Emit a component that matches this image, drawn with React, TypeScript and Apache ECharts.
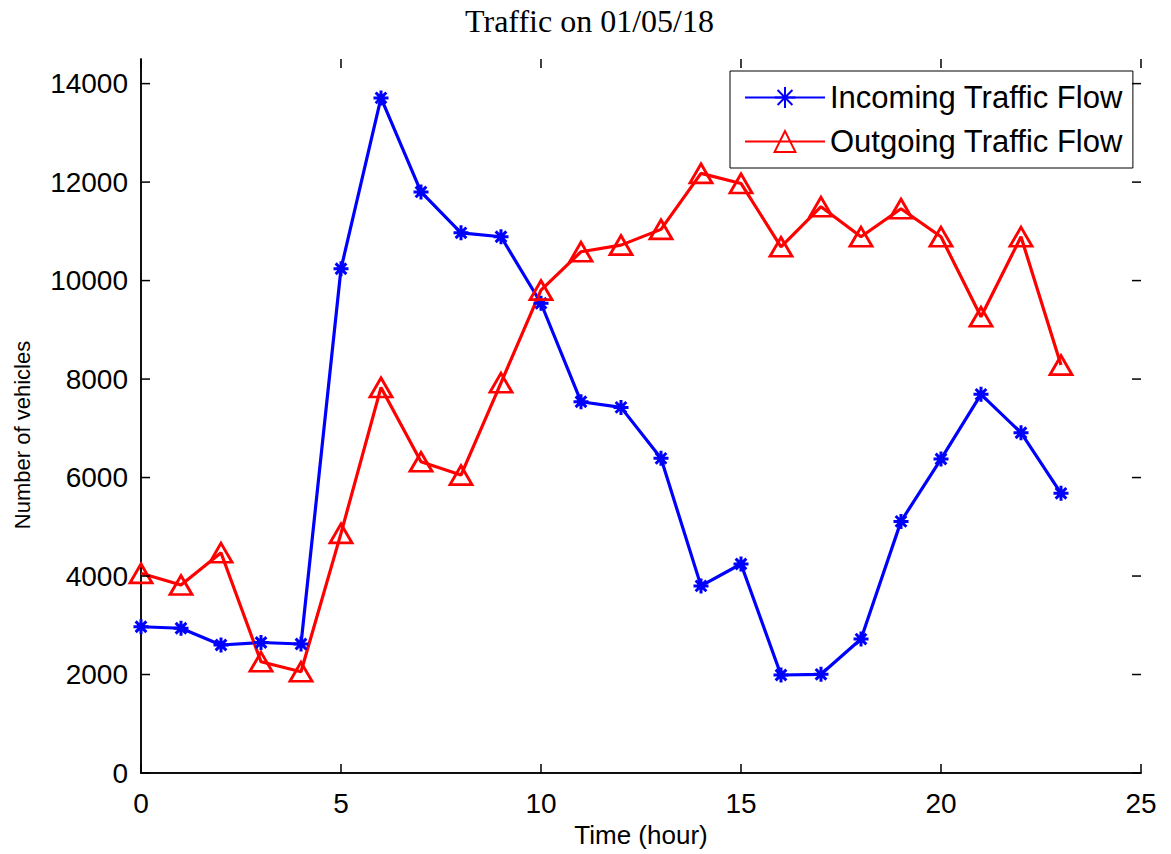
import React, { useEffect, useRef } from "react";
import * as echarts from "echarts";

const hours = [0, 1, 2, 3, 4, 5, 6, 7, 8, 9, 10, 11, 12, 13, 14, 15, 16, 17, 18, 19, 20, 21, 22, 23];
const incoming = [2970, 2940, 2600, 2650, 2620, 10240, 13710, 11800, 10970, 10890, 9540, 7540, 7425, 6390, 3800, 4244, 1990, 2004, 2720, 5110, 6376, 7690, 6910, 5680];
const outgoing = [4055, 3817, 4473, 2260, 2057, 4867, 7830, 6320, 6050, 7925, 9807, 10585, 10720, 11040, 12177, 11973, 10686, 11500, 10890, 11460, 10890, 9265, 10890, 8284];
const xTicks = [0, 5, 10, 15, 20, 25];
const yTicks = [0, 2000, 4000, 6000, 8000, 10000, 12000, 14000];
const seriesNames = ["Incoming Traffic Flow", "Outgoing Traffic Flow"];
const titleText = "Traffic on 01/05/18";
const xName = "Time (hour)";
const yName = "Number of vehicles";
const X_MIN = 0;
const X_MAX = 25;
const Y_MIN = 0;
const Y_MAX = 14500;

const ASTERISK = "path://M0,7L14,7M7,0L7,14M2,2L12,12M12,2L2,12";
const SANS = "Liberation Sans, Arial, Helvetica, sans-serif";
const TICK_LEN = 9;

export default function App() {
  const ref = useRef<HTMLDivElement>(null);
  useEffect(() => {
    if (!ref.current) return;
    const chart = echarts.init(ref.current, undefined, { renderer: "svg" });
    const axisLine = () => ({ show: true, lineStyle: { color: "#000", width: 1.5 } });
    chart.setOption({
      animation: false,
      backgroundColor: "#fff",
      title: {
        text: titleText,
        left: 589.5,
        textAlign: "center",
        top: 5,
        padding: 0,
        textStyle: { fontFamily: "Liberation Serif, Times New Roman, serif", fontSize: 32, fontWeight: "normal", color: "#000" },
      },
      legend: {
        orient: "vertical",
        left: 730,
        top: 71,
        itemWidth: 80,
        itemHeight: 26,
        itemGap: 13,
        padding: [11, 10, 11, 14],
        borderColor: "#000",
        borderWidth: 1,
        backgroundColor: "#fff",
        textStyle: { fontFamily: SANS, fontSize: 31, color: "#000" },
        data: seriesNames,
      },
      grid: { left: 141, right: 30, top: 59, bottom: 81, containLabel: false },
      xAxis: [
        {
          type: "value",
          min: X_MIN,
          max: X_MAX,
          interval: 5,
          position: "bottom",
          name: xName,
          nameLocation: "middle",
          nameGap: 44,
          nameTextStyle: { fontFamily: SANS, fontSize: 26, color: "#000" },
          axisLine: axisLine(),
          axisTick: { show: false },
          axisLabel: { customValues: xTicks, fontFamily: SANS, fontSize: 28, color: "#000", margin: 16 },
          splitLine: { show: false },
        },
        {
          type: "value",
          min: X_MIN,
          max: X_MAX,
          interval: 5,
          position: "top",
          axisLine: axisLine(),
          axisTick: { show: false },
          axisLabel: { show: false },
          splitLine: { show: false },
        },
      ],
      yAxis: [
        {
          type: "value",
          min: Y_MIN,
          max: Y_MAX,
          interval: 2000,
          position: "left",
          name: yName,
          nameLocation: "middle",
          nameGap: 108,
          nameTextStyle: { fontFamily: SANS, fontSize: 22, color: "#000", padding: [0, 0, 0, -38] },
          axisLine: axisLine(),
          axisTick: { show: false },
          axisLabel: {
            customValues: yTicks,
            formatter: (v: number) => String(v),
            fontFamily: SANS,
            fontSize: 28,
            color: "#000",
            margin: 13,
          },
          splitLine: { show: false },
        },
        {
          type: "value",
          min: Y_MIN,
          max: Y_MAX,
          interval: 2000,
          position: "right",
          axisLine: axisLine(),
          axisTick: { show: false },
          axisLabel: { show: false },
          splitLine: { show: false },
        },
      ],
      series: [
        {
          name: seriesNames[0],
          type: "line",
          xAxisIndex: 0,
          yAxisIndex: 0,
          data: hours.map((h, i) => [h, incoming[i]]),
          symbol: ASTERISK,
          symbolSize: 15,
          showAllSymbol: true,
          lineStyle: { color: "#0000ff", width: 3.2 },
          itemStyle: { color: "#0000ff", borderColor: "#0000ff", borderWidth: 3 },
          emphasis: { disabled: true },
        },
        {
          name: seriesNames[1],
          type: "line",
          xAxisIndex: 0,
          yAxisIndex: 0,
          data: hours.map((h, i) => [h, outgoing[i]]),
          symbol: "triangle",
          symbolSize: [22, 19],
          showAllSymbol: true,
          lineStyle: { color: "#ff0000", width: 3.2 },
          itemStyle: { color: "rgba(255,255,255,0)", borderColor: "#ff0000", borderWidth: 2.8 },
          emphasis: { disabled: true },
        },
      ],
    });

    // Inward tick marks on all four sides, positioned through the axes' own scales
    const px = (x: number, y: number) => chart.convertToPixel({ gridIndex: 0 }, [x, y]) as number[];
    const tickStyle = { stroke: "#000", lineWidth: 1.5 };
    const ticks: any[] = [];
    yTicks.forEach((v) => {
      const l = px(X_MIN, v);
      const r = px(X_MAX, v);
      ticks.push({ type: "line", silent: true, z: 10, shape: { x1: l[0], y1: l[1], x2: l[0] + TICK_LEN, y2: l[1] }, style: tickStyle });
      ticks.push({ type: "line", silent: true, z: 10, shape: { x1: r[0], y1: r[1], x2: r[0] - TICK_LEN, y2: r[1] }, style: tickStyle });
    });
    xTicks.forEach((v) => {
      const b = px(v, Y_MIN);
      const t = px(v, Y_MAX);
      ticks.push({ type: "line", silent: true, z: 10, shape: { x1: b[0], y1: b[1], x2: b[0], y2: b[1] - TICK_LEN }, style: tickStyle });
      ticks.push({ type: "line", silent: true, z: 10, shape: { x1: t[0], y1: t[1], x2: t[0], y2: t[1] + TICK_LEN }, style: tickStyle });
    });
    chart.setOption({ graphic: ticks });

    return () => chart.dispose();
  }, []);
  return (
    <div
      ref={ref}
      style={{ position: "fixed", left: 0, top: 0, width: 1171, height: 854, background: "#fff" }}
    />
  );
}
